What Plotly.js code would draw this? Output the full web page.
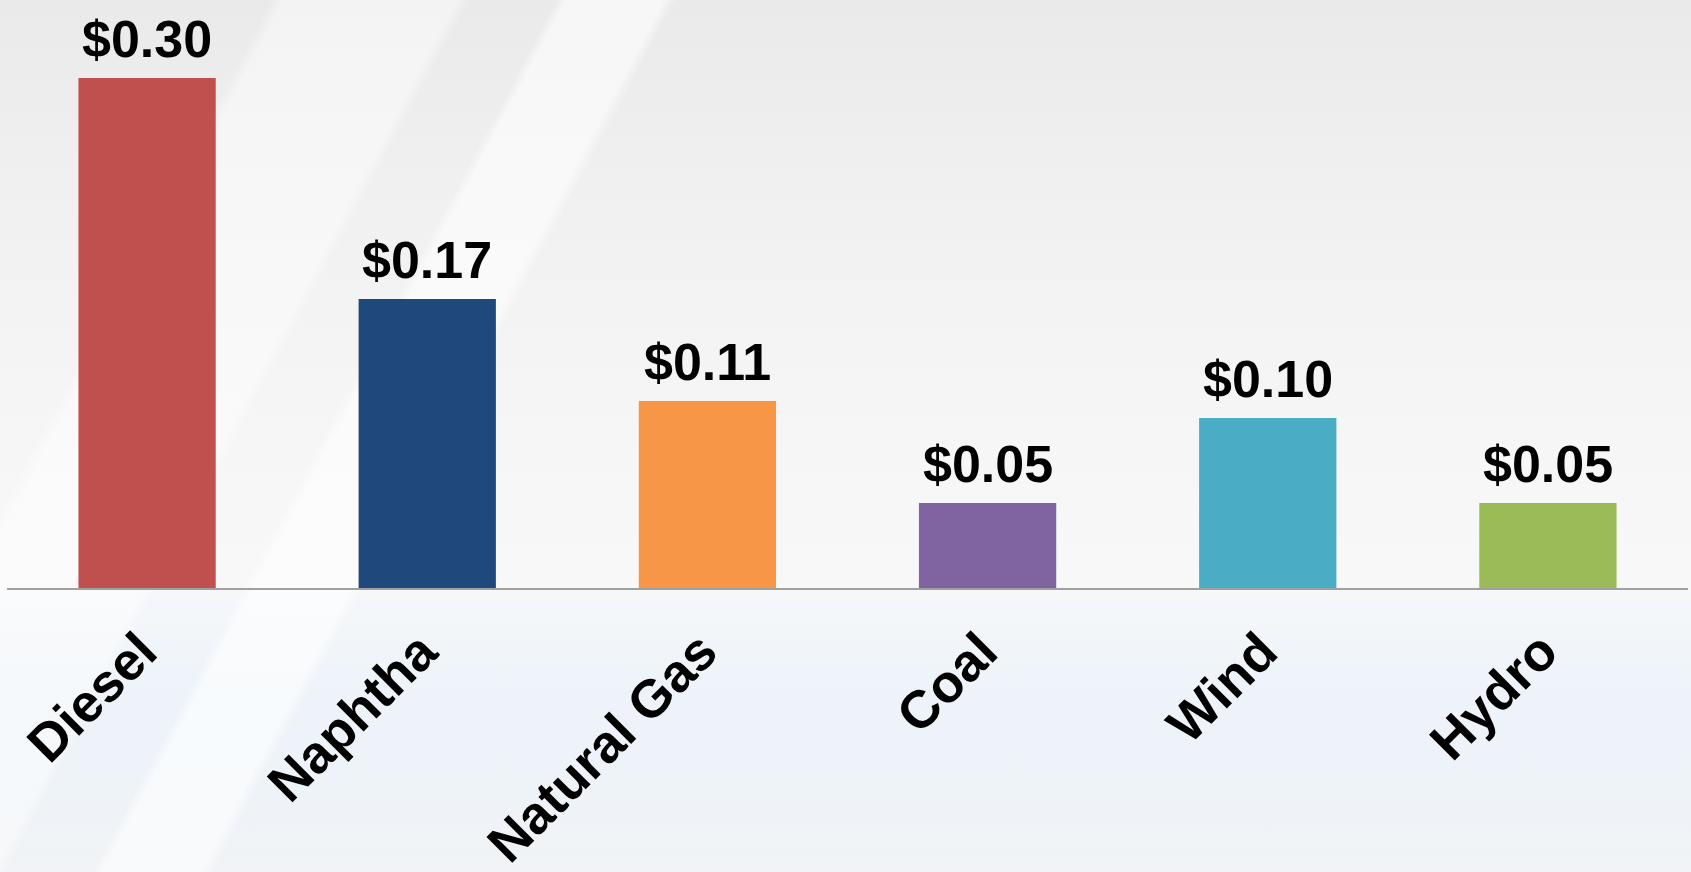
<!DOCTYPE html>
<html>
<head>
<meta charset="utf-8">
<script src="https://cdn.plot.ly/plotly-3.0.1.min.js"></script>
<style>
  html, body { margin: 0; padding: 0; width: 1691px; height: 872px; overflow: hidden; }
  body {
    background:
      linear-gradient(118deg,
        rgba(255,255,255,0) 0%,
        rgba(255,255,255,0) 12.6%,
        rgba(255,255,255,0.45) 13.2%,
        rgba(255,255,255,0.45) 21.2%,
        rgba(255,255,255,0) 21.8%,
        rgba(255,255,255,0) 25.8%,
        rgba(255,255,255,0.6) 26.3%,
        rgba(255,255,255,0.6) 30.8%,
        rgba(255,255,255,0) 31.4%,
        rgba(255,255,255,0) 100%),
      linear-gradient(to bottom,
        #eaeaea 0%,
        #f1f1f1 25%,
        #f6f6f6 50%,
        #f8f8f8 67%,
        #f4f7fa 69%,
        #edf3f9 80%,
        #eef3f8 90%,
        #f1f3f6 100%);
  }
  #chart { width: 1691px; height: 872px; }
</style>
</head>
<body>
<div id="chart"></div>
<script>
const categories = ["Diesel", "Naphtha", "Natural Gas", "Coal", "Wind", "Hydro"];
const costs = [0.30, 0.17, 0.11, 0.05, 0.10, 0.05];
const barColors = ["#C0504D", "#1F497D", "#F79646", "#8064A2", "#4BACC6", "#9BBB59"];
const valueLabels = costs.map(v => "$" + v.toFixed(2));

const trace = {
  type: "bar",
  x: categories,
  y: costs,
  marker: { color: barColors, line: { width: 0 } },
  hoverinfo: "skip"
};

const annotations = categories.map((c, i) => ({
  x: c,
  y: costs[i],
  xref: "x",
  yref: "y",
  text: valueLabels[i],
  showarrow: false,
  yanchor: "bottom",
  yshift: 8,
  font: { family: "Liberation Sans, Arial, sans-serif", size: 52, color: "#000000", weight: "bold" }
}));

const layout = {
  width: 1691,
  height: 872,
  margin: { l: 7, r: 3, t: 10, b: 284 },
  paper_bgcolor: "rgba(0,0,0,0)",
  plot_bgcolor: "rgba(0,0,0,0)",
  showlegend: false,
  bargap: 0.51,
  xaxis: {
    type: "category",
    tickangle: -45,
    tickfont: { family: "Liberation Sans, Arial, sans-serif", size: 53, color: "#000000", weight: "bold" },
    ticklabelstandoff: 9,
    ticklabelshift: -6,
    showline: true,
    linecolor: "#a0a0a0",
    linewidth: 2,
    ticks: "",
    showgrid: false,
    zeroline: false
  },
  yaxis: {
    range: [0, 0.34],
    visible: false,
    showgrid: false,
    zeroline: false
  },
  annotations: annotations
};

Plotly.newPlot("chart", [trace], layout, { displayModeBar: false, staticPlot: true });
</script>
</body>
</html>
